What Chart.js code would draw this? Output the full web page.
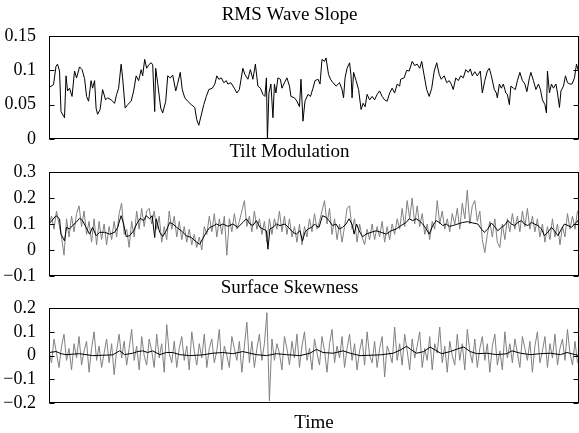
<!DOCTYPE html>
<html>
<head>
<meta charset="utf-8">
<script src="https://cdn.jsdelivr.net/npm/chart.js@4/dist/chart.umd.min.js"></script>
<style>
  html, body { margin: 0; background: #fff; overflow: hidden; }
  #wrap { position: relative; width: 579px; height: 433px; overflow: hidden; }
  canvas { position: absolute; left: 0; }
</style>
</head>
<body>
<div id="wrap">
  <canvas id="slopeChart" width="579" height="165" style="top:0"></canvas>
  <canvas id="tiltChart" width="579" height="170" style="top:135px"></canvas>
  <canvas id="skewChart" width="579" height="164" style="top:270px"></canvas>
</div>
<script>
// RMS wave slope (single black trace)
const slopeTime = [
  0,9,14,17,21,24,31,34,37,41, 46,51,55,61,66,71,75,79,84,87, 91,94,97,102,107,113,117,124,131,135,
  139,144,147,152,157,164,169,174,179,184, 187,191,195,199,204,207,211,213,217,223, 227,233,237,242,247,253,257,262,266,271,
  277,284,291,295,299,304,309,314,319,326, 331,335,339,344,349,354,
  357,363,370,375,380,387,391,397,402,407, 412,417,422,427,431,434,436,439,443,447, 450,453,457,462,465,470,475,480,483,490,
  495,500,503,507,511,517,522,527,531,537, 541,545,550,553,558,562,567,573,580,585, 588,591,595,600,603,605,608,613,618,623,
  627,631,635,640,645,650,655,660,665,670, 675,680,685,690,695,700,
  702,709,714,719,725,730,735,740,744,749, 754,759,764,769,774,779,783,789,794,799, 803,807,812,817,822,827,832,837,841,845,
  850,855,861,865,870,875,879,883,889,893, 895,899,903,907,912,915,919,922,927,931, 935,940,945,950,954,959,962,967,972,977,
  981,985,990,993,995,999,1003,1007,1012,1015, 1019,1022,1027,1031,1035,1040,1044,1049,1053,1057, 1058
];
const slopeRms = [
  0.075,0.079,0.106,0.109,0.099,0.040,0.031,0.092,0.070,0.074, 0.062,0.099,0.089,0.105,0.101,0.088,0.062,0.055,0.085,0.074,
  0.085,0.045,0.036,0.043,0.072,0.057,0.060,0.057,0.052,0.065, 0.074,0.109,0.089,0.045,0.050,0.055,0.070,0.092,0.085,0.101,
  0.092,0.116,0.103,0.108,0.111,0.108,0.040,0.103,0.081,0.045, 0.038,0.055,0.092,0.089,0.093,0.070,0.081,0.097,0.072,0.060,
  0.055,0.050,0.046,0.028,0.020,0.035,0.050,0.062,0.072,0.074, 0.080,0.092,0.087,0.089,0.082,0.085,
  0.080,0.082,0.074,0.067,0.072,0.103,0.094,0.087,0.101,0.087, 0.109,0.077,0.074,0.065,0.062,0.089,0.000,0.067,0.080,0.031,
  0.080,0.067,0.089,0.087,0.074,0.082,0.089,0.077,0.062,0.060, 0.055,0.047,0.087,0.026,0.055,0.065,0.062,0.074,0.085,0.087,
  0.080,0.116,0.113,0.118,0.094,0.087,0.082,0.077,0.082,0.072, 0.060,0.089,0.103,0.111,0.092,0.060,0.097,0.085,0.072,0.043,
  0.052,0.047,0.065,0.057,0.062,0.057,0.065,0.070,0.062,0.057, 0.055,0.067,0.074,0.067,0.080,0.077,
  0.087,0.089,0.100,0.099,0.113,0.107,0.109,0.103,0.113,0.092, 0.072,0.062,0.074,0.099,0.111,0.094,0.087,0.092,0.082,0.085,
  0.080,0.072,0.089,0.085,0.092,0.089,0.101,0.097,0.102,0.092, 0.098,0.092,0.099,0.067,0.085,0.099,0.103,0.092,0.072,0.067,
  0.060,0.080,0.074,0.080,0.067,0.065,0.050,0.077,0.074,0.072, 0.085,0.097,0.085,0.080,0.069,0.089,0.097,0.085,0.072,0.080,
  0.072,0.057,0.050,0.038,0.099,0.067,0.080,0.074,0.080,0.067, 0.046,0.070,0.077,0.092,0.082,0.080,0.080,0.089,0.109,0.099,
  0.050
];

// Tilt modulation: smoothed (black) and raw (gray, sampled every 5 time units)
const tiltTime = [
  0,14,21,24,31,35,41,47,54,61, 67,74,81,87,94,101,111,121,131,137, 144,149,154,161,169,175,182,189,194,201,
  206,211,214,221,227,234,241,247,255,264, 274,284,294,301,307,314,321,327,334,341, 347,357,367,377,387,394,401,407,414,421,
  427,434,437,441,447,454,461,471,481,487, 494,501,506,511,517,524,530,
  533,539,546,553,559,566,573,579,586,593, 599,606,609,614,619,626,633,643,653,663, 673,683,693,703,713,719,726,733,739,746,
  753,759,766,773,779,786,793,799,806,816, 826,836,846,856,863,869,876,883,889,896, 903,909,916,923,929,936,943,949,956,963,
  969,976,983,989,996,1003,1009,1016,1023,1029, 1036,1043,1049,1056,1058
];
const tiltSmooth = [
  0.100,0.132,0.120,0.061,0.035,0.087,0.081,0.094,0.106,0.122, 0.113,0.087,0.061,0.087,0.055,0.068,0.068,0.061,0.068,0.087,
  0.132,0.100,0.052,0.055,0.074,0.100,0.122,0.113,0.132,0.120, 0.132,0.048,0.120,0.068,0.052,0.074,0.106,0.100,0.087,0.074,
  0.055,0.048,0.031,0.022,0.044,0.068,0.087,0.091,0.100,0.094, 0.100,0.091,0.100,0.087,0.106,0.120,0.100,0.094,0.113,0.087,
  0.081,0.074,0.003,0.081,0.087,0.100,0.094,0.100,0.081,0.068, 0.061,0.074,0.035,0.068,0.081,0.087,0.100,
  0.094,0.087,0.132,0.126,0.113,0.094,0.100,0.081,0.087,0.100, 0.120,0.094,0.061,0.100,0.074,0.051,0.061,0.068,0.074,0.068,
  0.061,0.074,0.081,0.094,0.106,0.120,0.113,0.120,0.113,0.100, 0.081,0.061,0.094,0.113,0.106,0.094,0.100,0.091,0.094,0.100,
  0.106,0.109,0.104,0.100,0.081,0.068,0.081,0.104,0.091,0.074, 0.087,0.094,0.113,0.100,0.094,0.106,0.113,0.100,0.094,0.106,
  0.100,0.094,0.081,0.055,0.068,0.087,0.074,0.055,0.081,0.100, 0.094,0.087,0.100,0.113,0.094
];
const rawStep = 5;
const tiltRaw = [
  0.10,0.13,0.08,0.15,0.10,0.05,-0.02,0.12,0.05,0.13,
  0.07,0.14,0.17,0.09,0.15,0.06,0.11,0.03,0.12,0.02,
  0.11,0.04,0.10,0.02,0.09,0.04,0.11,0.05,0.14,0.18,
  0.06,0.08,0.01,0.11,0.05,0.15,0.08,0.16,0.09,0.15,
  0.16,0.10,0.15,0.08,0.13,0.03,0.09,0.04,0.15,0.08,
  0.13,0.05,0.11,0.04,0.09,0.03,0.08,0.02,0.06,0.01,
  0.05,0.00,0.09,0.06,0.13,0.07,0.14,0.05,0.12,0.06,
  0.13,-0.02,0.12,0.07,0.14,0.08,0.11,0.15,0.19,0.09,
  0.13,0.07,0.15,0.08,0.12,0.06,0.11,0.03,0.12,0.06,
  0.12,0.08,0.15,0.07,0.13,0.06,0.12,0.05,0.09,0.03,
  0.10,0.02,0.09,0.05,0.12,0.07,0.14,0.08,0.11,0.15,
  0.19,0.10,0.16,0.06,0.12,0.04,0.10,0.03,0.09,0.16,
  0.17,0.08,0.12,0.03,0.10,0.05,0.02,0.08,0.04,0.10,
  0.04,0.09,0.05,0.11,0.03,0.09,0.04,0.10,0.06,0.12,
  0.08,0.16,0.09,0.19,0.12,0.20,0.10,0.17,0.09,0.14,
  0.06,0.10,0.04,0.11,0.08,0.19,0.10,0.15,0.08,0.12,
  0.07,0.14,0.10,0.16,0.08,0.18,0.12,0.23,0.10,0.17,
  0.19,0.11,0.15,0.04,-0.01,0.06,0.11,0.05,0.12,0.03,
  0.01,0.10,0.04,0.12,0.07,0.14,0.08,0.13,0.07,0.15,
  0.09,0.16,0.08,0.13,0.07,0.12,0.05,0.10,0.03,0.09,
  0.04,0.12,0.05,0.10,0.02,0.09,0.05,0.14,0.08,0.13,
  0.08,0.15
];

// Surface skewness: smoothed (black) and raw (gray)
const skewTime = [
  0,14,24,34,61,87,127,141,151,167, 177,187,197,207,221,234,247,261,281,307, 327,347,367,387,401,414,434,454,474,501,
  521,534,547,567,587,601,621,661,687,701, 714,724,734,748,761,771,784,801,818,828, 841,854,874,894,914,924,941,961,981,1001,
  1021,1034,1058
];
const skewSmooth = [
  0.013,0.017,0.008,0.004,0.008,0.000,0.003,0.020,0.004,0.010, 0.017,0.020,0.013,0.020,0.004,0.013,0.013,0.004,0.000,0.003,
  0.010,0.013,0.008,0.017,0.010,0.004,0.000,0.008,0.004,0.000, 0.010,0.026,0.013,0.010,0.020,0.010,0.000,0.003,0.010,0.023,
  0.039,0.023,0.010,0.017,0.036,0.023,0.008,0.017,0.030,0.036, 0.017,0.008,0.010,0.004,0.008,0.020,0.010,0.004,0.008,0.010,
  0.004,0.013,0.000
];
const skewRaw = [
  0.02,-0.03,0.07,0.01,-0.05,0.04,0.09,-0.02,0.03,-0.06,
  0.05,-0.01,0.08,-0.04,0.02,0.06,-0.07,0.03,0.10,-0.02,
  0.04,-0.05,0.01,0.07,-0.03,0.05,-0.08,0.02,0.09,-0.01,
  0.06,-0.04,0.03,0.11,-0.02,0.04,-0.06,0.08,0.00,-0.04,
  0.07,0.02,-0.05,0.09,-0.01,0.05,-0.07,0.13,0.01,-0.03,
  0.06,-0.05,0.03,0.08,-0.02,0.04,-0.06,0.10,0.02,-0.04,
  0.05,-0.01,0.09,-0.05,0.03,0.07,-0.03,0.02,0.11,-0.06,
  0.04,0.00,-0.05,0.08,0.03,-0.02,0.06,-0.07,0.04,0.14,
  -0.03,0.06,-0.05,0.03,0.09,-0.02,0.05,0.18,-0.19,0.07,
  -0.02,0.05,0.01,-0.06,0.08,0.03,-0.04,0.06,-0.01,0.09,
  -0.05,0.04,0.10,-0.02,0.03,-0.06,0.07,0.01,-0.04,0.08,
  0.02,-0.07,0.05,0.11,-0.03,0.04,-0.01,0.08,-0.05,0.03,
  0.09,-0.02,0.05,-0.06,0.02,0.07,-0.04,0.10,0.00,-0.03,
  0.06,-0.05,0.03,0.08,-0.09,0.04,0.01,-0.03,0.12,-0.02,
  0.05,-0.04,0.09,0.02,-0.06,0.07,-0.01,0.04,0.10,-0.05,
  0.03,-0.02,0.08,-0.06,0.05,0.01,0.12,-0.03,0.04,-0.07,
  0.06,0.00,-0.04,0.09,-0.02,0.05,-0.06,0.11,0.02,-0.03,
  0.07,-0.05,0.03,0.08,-0.02,0.05,-0.07,0.04,0.09,-0.04,
  0.02,-0.06,0.10,-0.01,0.05,-0.03,0.07,0.01,-0.05,0.08,
  0.03,-0.02,0.06,-0.07,0.04,0.10,-0.03,0.02,0.08,-0.05,
  0.05,-0.01,0.09,-0.04,0.03,0.07,-0.02,0.11,0.01,-0.04,
  0.06,-0.03
];

const timeMax = 1058;

Chart.defaults.font.family = '"Liberation Serif", "Times New Roman", serif';
Chart.defaults.color = "#000";

// pair a time array with a value array
function toPoints(times, values) {
  return values.map((v, i) => ({ x: times[i], y: v }));
}
function rawPoints(values) {
  return values.map((v, i) => ({ x: i * rawStep, y: v }));
}

// MATLAB-like box with inward ticks on both sides
const boxPlugin = {
  id: "box",
  afterDraw(chart) {
    const { ctx, chartArea: a, scales: { y } } = chart;
    const l = Math.round(a.left) + 0.5, r = Math.round(a.right) - 0.5;
    const t = Math.round(a.top) + 0.5, b = Math.round(a.bottom) - 0.5;
    ctx.save();
    ctx.strokeStyle = "#000";
    ctx.lineWidth = 1;
    ctx.strokeRect(l, t, r - l, b - t);
    ctx.beginPath();
    y.ticks.forEach(tk => {
      const py = Math.round(y.getPixelForValue(tk.value)) + 0.5;
      ctx.moveTo(l, py); ctx.lineTo(l + 5, py);
      ctx.moveTo(r, py); ctx.lineTo(r - 5, py);
    });
    ctx.stroke();
    ctx.restore();
  }
};

function tickLabel(v) {
  const s = String(parseFloat(Math.abs(v).toFixed(2)));
  return v < 0 ? "\u2212" + s : s;
}

function makePanel(id, title, datasets, yMin, yMax, step, titlePad, bottomPad, showTime) {
  new Chart(document.getElementById(id), {
    type: "line",
    data: { datasets },
    plugins: [boxPlugin],
    options: {
      responsive: false,
      animation: false,
      layout: { padding: { left: 0, right: 0, top: 0, bottom: bottomPad } },
      elements: { point: { radius: 0 }, line: { borderWidth: 1, tension: 0 } },
      plugins: {
        legend: { display: false },
        tooltip: { enabled: false },
        title: {
          display: true,
          text: title,
          color: "#000",
          font: { size: 19, weight: "normal" },
          padding: titlePad
        }
      },
      scales: {
        x: {
          type: "linear",
          min: 0,
          max: timeMax,
          display: showTime,
          grid: { display: false },
          border: { display: false },
          ticks: { display: false },
          title: { display: showTime, text: "Time", color: "#000", font: { size: 19 }, padding: { top: 0, bottom: 0 } }
        },
        y: {
          min: yMin,
          max: yMax,
          grid: { display: false },
          border: { display: false },
          ticks: { stepSize: step, autoSkip: false, padding: 5, color: "#000", font: { size: 18 }, callback: tickLabel },
          afterFit: s => { s.width = 49; }
        }
      }
    }
  });
}

makePanel("slopeChart", "RMS Wave Slope", [
  { data: toPoints(slopeTime, slopeRms), borderColor: "#000" }
], 0, 0.15, 0.05, { top: 3.6, bottom: 9.6 }, 26, false);

makePanel("tiltChart", "Tilt Modulation", [
  { data: toPoints(tiltTime, tiltSmooth), borderColor: "#000" },
  { data: rawPoints(tiltRaw), borderColor: "#808080" }
], -0.1, 0.3, 0.1, { top: 5.6, bottom: 8.6 }, 29, false);

makePanel("skewChart", "Surface Skewness", [
  { data: toPoints(skewTime, skewSmooth), borderColor: "#000" },
  { data: rawPoints(skewRaw), borderColor: "#808080" }
], -0.2, 0.2, 0.1, { top: 6.6, bottom: 8.6 }, 0, true);
</script>
</body>
</html>
